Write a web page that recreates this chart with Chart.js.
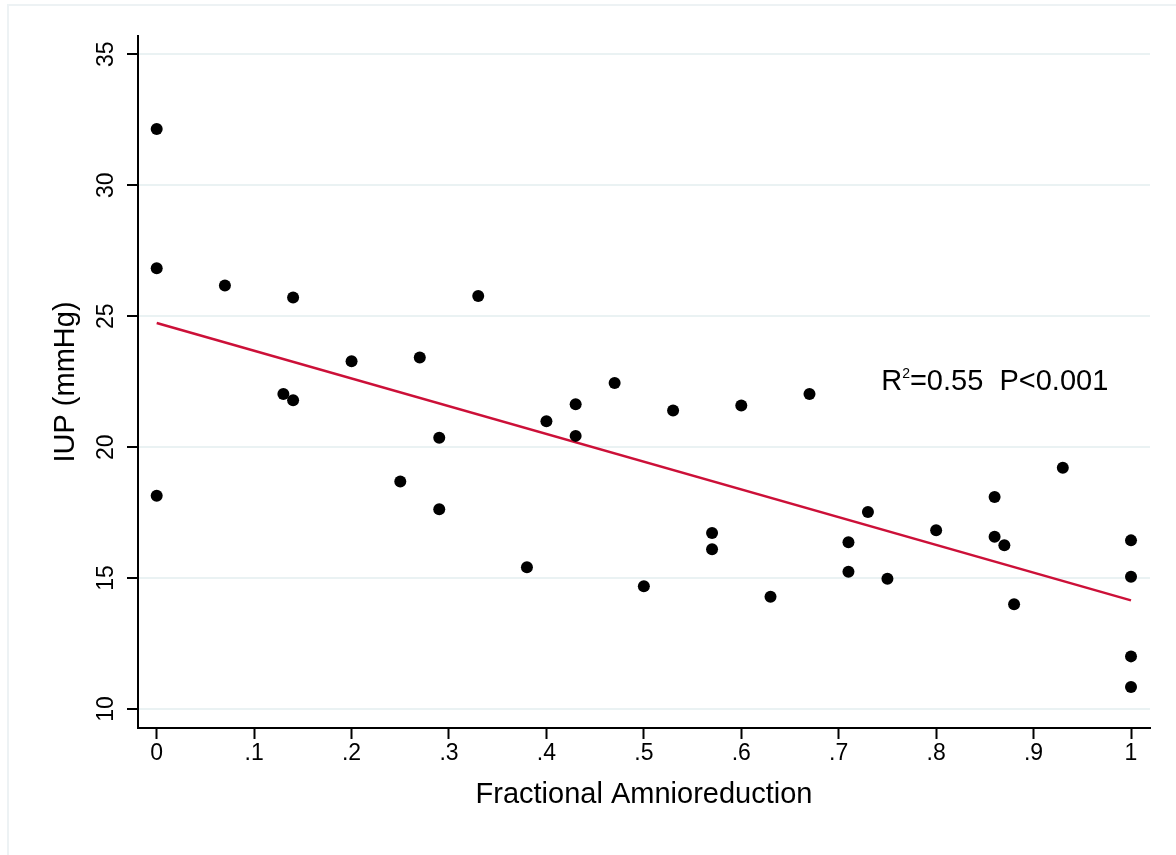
<!DOCTYPE html>
<html>
<head>
<meta charset="utf-8">
<script src="https://cdn.jsdelivr.net/npm/chart.js@4.4.1/dist/chart.umd.min.js"></script>
<style>
  body { margin: 0; background: #fff; }
  #wrap { position: relative; width: 1176px; height: 855px; }
  #frame { position: absolute; left: 7px; top: 4px; right: 0; bottom: 0;
           border-left: 2px solid #edf2f4; border-top: 2px solid #edf2f4; }
  canvas { position: absolute; left: 0; top: 0; }
</style>
</head>
<body>
<div id="wrap">
  <div id="frame"></div>
  <canvas id="chart" width="1176" height="855"></canvas>
</div>
<script>
// fractional amnioreduction vs intra-uterine pressure
const fracAR = [0, 0, 0, 0.07, 0.13, 0.14, 0.14, 0.2, 0.25, 0.27, 0.29, 0.29, 0.33,
  0.38, 0.4, 0.43, 0.43, 0.47, 0.5, 0.53, 0.57, 0.57, 0.6, 0.63, 0.67, 0.71, 0.71,
  0.73, 0.75, 0.8, 0.86, 0.86, 0.87, 0.88, 0.93, 1, 1, 1, 1];
const iup = [32.15, 26.83, 18.14, 26.17, 22.03, 25.71, 21.79, 23.28, 18.69, 23.42,
  20.36, 17.63, 25.77, 15.41, 20.99, 21.64, 20.43, 22.45, 14.69, 21.40, 16.72, 16.10,
  21.59, 14.29, 22.03, 16.37, 15.24, 17.52, 14.97, 16.83, 18.10, 16.58, 16.25, 14.00,
  19.21, 16.44, 15.05, 12.01, 10.84];

// fitted line end points
const fitX = [0, 1];
const fitY = [24.74, 14.15];

const xTicks = [0, 0.1, 0.2, 0.3, 0.4, 0.5, 0.6, 0.7, 0.8, 0.9, 1];
const xTickLabels = ['0', '.1', '.2', '.3', '.4', '.5', '.6', '.7', '.8', '.9', '1'];
const yTicks = [10, 15, 20, 25, 30, 35];

const FONT = "'Liberation Sans', Arial, sans-serif";

// R2 / P text, placed in data units
const statsLabel = { x: 0.7436, y: 22.2, main: 'R', sup: '2', rest: '=0.55  P<0.001' };

const statsPlugin = {
  id: 'statsText',
  afterDatasetsDraw(chart) {
    const ctx = chart.ctx;
    const px = chart.scales.x.getPixelForValue(statsLabel.x);
    const py = chart.scales.y.getPixelForValue(statsLabel.y);
    ctx.save();
    ctx.fillStyle = '#000';
    ctx.textBaseline = 'alphabetic';
    ctx.textAlign = 'left';
    ctx.font = '29px ' + FONT;
    ctx.fillText(statsLabel.main, px, py);
    let w = ctx.measureText(statsLabel.main).width;
    ctx.font = '14px ' + FONT;
    ctx.fillText(statsLabel.sup, px + w, py - 12);
    w += ctx.measureText(statsLabel.sup).width;
    ctx.font = '29px ' + FONT;
    ctx.fillText(statsLabel.rest, px + w, py);
    ctx.restore();
  }
};

const points = fracAR.map((v, i) => ({ x: v, y: iup[i] }));
const fitPoints = fitX.map((v, i) => ({ x: v, y: fitY[i] }));

new Chart(document.getElementById('chart'), {
  type: 'scatter',
  data: {
    datasets: [{
      label: 'IUP',
      data: points,
      backgroundColor: '#000',
      borderWidth: 0,
      pointRadius: 6,
      pointHoverRadius: 6
    }, {
      label: 'Fitted',
      type: 'line',
      data: fitPoints,
      borderColor: '#cc1038',
      borderWidth: 2.5,
      pointRadius: 0,
      fill: false
    }]
  },
  options: {
    responsive: false,
    animation: false,
    devicePixelRatio: 1,
    layout: { padding: { top: 36, right: 26, left: 0, bottom: 0 } },
    plugins: {
      legend: { display: false },
      tooltip: { enabled: false }
    },
    scales: {
      x: {
        type: 'linear',
        min: -0.0192,
        max: 1.0195,
        afterFit: s => { s.height = 127; },
        afterBuildTicks: s => { s.ticks = xTicks.map(v => ({ value: v })); },
        border: { color: '#000', width: 2 },
        grid: { drawOnChartArea: false, tickColor: '#000', tickLength: 11, tickWidth: 2 },
        ticks: {
          color: '#000',
          font: { family: FONT, size: 23 },
          padding: 1,
          minRotation: 0,
          maxRotation: 0,
          callback: (v, i) => xTickLabels[i]
        },
        title: {
          display: true,
          text: 'Fractional Amnioreduction',
          color: '#000',
          font: { family: FONT, size: 29 },
          padding: { top: 0, bottom: 43 }
        }
      },
      y: {
        type: 'linear',
        min: 9.275,
        max: 35.70,
        afterFit: s => { s.width = 138; },
        afterBuildTicks: s => { s.ticks = yTicks.map(v => ({ value: v })); },
        border: { color: '#000', width: 2 },
        grid: { color: '#eaf2f3', lineWidth: 2, tickColor: '#000', tickLength: 11, tickWidth: 2 },
        ticks: {
          color: '#000',
          font: { family: FONT, size: 23 },
          padding: 8,
          minRotation: 90,
          maxRotation: 90,
          crossAlign: 'center',
          callback: v => String(v)
        },
        title: {
          display: true,
          text: 'IUP (mmHg)',
          color: '#000',
          font: { family: FONT, size: 29 },
          padding: { top: 49, bottom: 0 }
        }
      }
    }
  },
  plugins: [statsPlugin]
});
</script>
</body>
</html>
